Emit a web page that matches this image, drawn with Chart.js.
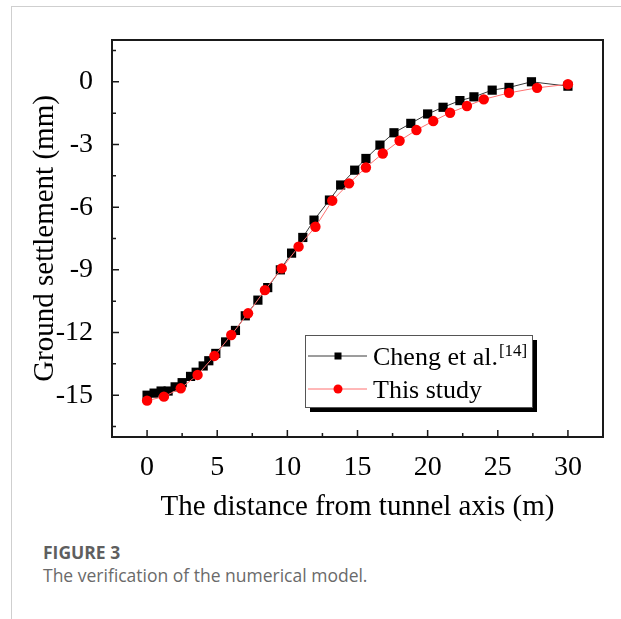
<!DOCTYPE html>
<html>
<head>
<meta charset="utf-8">
<script src="https://cdn.jsdelivr.net/npm/chart.js@4.4.0/dist/chart.umd.min.js"></script>
<style>
  body { margin: 0; background: #fff; }
  #frame { position: absolute; left: 11px; top: 6px; width: 610px; height: 613px;
           border-left: 1px solid #cfcfcf; border-top: 1px solid #cfcfcf; }
  #wrap { position: absolute; left: 0; top: 0; width: 621px; height: 530px; }
  .cap { position: absolute; left: 43px; font-family: "Open Sans"; color: #6a6a6a; font-size: 17.5px; line-height: 22px; }
</style>
</head>
<body>
<div id="frame"></div>
<div id="wrap"><canvas id="Chart" width="621" height="530"></canvas></div>
<div class="cap" style="top:541px; font-weight:bold; color:#5f5f5f;">FIGURE 3</div>
<div class="cap" style="top:564px;">The verification of the numerical model.</div>
<script>
/** Ground settlement vs distance from tunnel axis */

const chengX = [0, 0.5, 1.0, 1.5, 2.0, 2.5, 3.1, 3.5, 4.0, 4.4, 4.9, 5.6, 6.3, 7.0, 7.9, 8.6, 9.5, 10.3,
    11.1, 11.9, 13.0, 13.8, 14.8, 15.6, 16.6, 17.6, 18.8, 20.0, 21.1, 22.3, 23.3, 24.6, 25.8, 27.4, 30.0];
const chengY = [-15.0, -14.9, -14.8, -14.8, -14.6, -14.4, -14.1, -13.9, -13.6, -13.35, -13.0, -12.45, -11.9,
    -11.2, -10.45, -9.85, -9.0, -8.2, -7.45, -6.62, -5.66, -4.94, -4.23, -3.67, -3.03, -2.44, -1.99, -1.54,
    -1.22, -0.90, -0.72, -0.40, -0.27, 0.0, -0.21];

const studyX = [0, 1.2, 2.4, 3.6, 4.8, 6.0, 7.2, 8.4, 9.6, 10.8, 12.0, 13.2, 14.4, 15.6, 16.8, 18.0,
    19.2, 20.4, 21.6, 22.8, 24.0, 25.8, 27.8, 30.0];
const studyY = [-15.26, -15.07, -14.67, -14.03, -13.12, -12.12, -11.08, -9.97, -8.93, -7.89, -6.94, -5.69,
    -4.86, -4.10, -3.43, -2.82, -2.31, -1.88, -1.48, -1.16, -0.84, -0.53, -0.29, -0.12];

const xTicks = [0, 5, 10, 15, 20, 25, 30];
const yTicks = [-15, -12, -9, -6, -3, 0];
const xMinor = [-2.5, 2.5, 7.5, 12.5, 17.5, 22.5, 27.5, 32.5];
const yMinor = [-16.5, -13.5, -10.5, -7.5, -4.5, -1.5, 1.5];

const serif = 'Liberation Serif';

const frameAndTicks = {
    id: 'frameAndTicks',
    afterDraw(chart) {
        const ctx = chart.ctx;
        const a = chart.chartArea;
        const xs = chart.scales.x, ys = chart.scales.y;
        ctx.save();
        ctx.strokeStyle = '#1a1a1a';
        ctx.lineWidth = 1.5;
        // inward ticks
        ctx.beginPath();
        xTicks.forEach(v => { const p = xs.getPixelForValue(v); ctx.moveTo(p, a.bottom); ctx.lineTo(p, a.bottom - 7); });
        xMinor.forEach(v => { const p = xs.getPixelForValue(v); ctx.moveTo(p, a.bottom); ctx.lineTo(p, a.bottom - 4); });
        yTicks.forEach(v => { const p = ys.getPixelForValue(v); ctx.moveTo(a.left, p); ctx.lineTo(a.left + 7, p); });
        yMinor.forEach(v => { const p = ys.getPixelForValue(v); ctx.moveTo(a.left, p); ctx.lineTo(a.left + 4, p); });
        ctx.stroke();
        ctx.lineWidth = 2;
        ctx.strokeRect(a.left, a.top, a.right - a.left, a.bottom - a.top);

        // legend box with shadow
        const bx = 305, by = 335, bw = 227, bh = 72;
        ctx.fillStyle = '#000';
        ctx.fillRect(bx + 5, by + 5, bw, bh);
        ctx.fillStyle = '#fff';
        ctx.fillRect(bx, by, bw, bh);
        ctx.lineWidth = 1;
        ctx.strokeStyle = '#555';
        ctx.strokeRect(bx + 0.5, by + 0.5, bw, bh);

        const ds = chart.data.datasets;
        const rows = [356, 389];
        ds.forEach((d, i) => {
            const y = rows[i];
            ctx.strokeStyle = d.borderColor;
            ctx.lineWidth = 1;
            ctx.beginPath();
            ctx.moveTo(308, y); ctx.lineTo(367, y);
            ctx.stroke();
            ctx.fillStyle = d.pointBackgroundColor;
            if (d.pointStyle === 'rect') {
                ctx.fillRect(334.5, y - 3.5, 7, 7);
            } else {
                ctx.beginPath(); ctx.arc(338, y, 4.5, 0, Math.PI * 2); ctx.fill();
            }
            ctx.fillStyle = '#000';
            ctx.textBaseline = 'alphabetic';
            ctx.textAlign = 'left';
            ctx.font = '26px "' + serif + '"';
            ctx.fillText(d.label, 373, y + 9);
            if (d.sup) {
                const w = ctx.measureText(d.label).width;
                ctx.font = '17px "' + serif + '"';
                ctx.fillText(d.sup, 373 + w + 1, y);
            }
        });
        ctx.restore();
    }
};

const ctx = document.getElementById('Chart').getContext('2d');
const myChart = new Chart(ctx, {
    type: 'scatter',
    data: {
        datasets: [
            {
                label: 'Cheng et al.',
                sup: '[14]',
                data: chengX.map((x, i) => ({ x: x, y: chengY[i] })),
                showLine: true,
                borderColor: '#3a3a3a',
                borderWidth: 1,
                pointStyle: 'rect',
                pointRadius: 6.5,
                pointHoverRadius: 6.5,
                pointBackgroundColor: '#000',
                pointBorderWidth: 0,
                order: 2
            },
            {
                label: 'This study',
                data: studyX.map((x, i) => ({ x: x, y: studyY[i] })),
                showLine: true,
                borderColor: '#ff7070',
                borderWidth: 1,
                pointStyle: 'circle',
                pointRadius: 5.2,
                pointHoverRadius: 5.2,
                pointBackgroundColor: '#ff0000',
                pointBorderWidth: 0,
                order: 1
            }
        ]
    },
    options: {
        responsive: false,
        animation: false,
        events: [],
        layout: { padding: { left: 0, top: 40, right: 18, bottom: 0 } },
        plugins: { legend: { display: false }, tooltip: { enabled: false } },
        scales: {
            x: {
                type: 'linear',
                min: -2.5,
                max: 32.5,
                afterBuildTicks: s => { s.ticks = xTicks.map(v => ({ value: v })); },
                afterFit: s => { s.height = 93; },
                grid: { display: false },
                border: { display: false },
                ticks: { color: '#000', font: { family: serif, size: 28 }, padding: 6, maxRotation: 0 },
                title: { display: true, text: 'The distance from tunnel axis (m)', color: '#000',
                    font: { family: serif, size: 29 }, padding: { top: 0, bottom: 5 } }
            },
            y: {
                type: 'linear',
                min: -17,
                max: 2,
                afterBuildTicks: s => { s.ticks = yTicks.map(v => ({ value: v })); },
                afterFit: s => { s.width = 112; },
                grid: { display: false },
                border: { display: false },
                ticks: { color: '#000', font: { family: serif, size: 28 }, padding: 11 },
                title: { display: true, text: 'Ground settlement (mm)', color: '#000',
                    font: { family: serif, size: 29 }, padding: { top: 28, bottom: 0 } }
            }
        }
    },
    plugins: [frameAndTicks]
});
</script>
</body>
</html>
